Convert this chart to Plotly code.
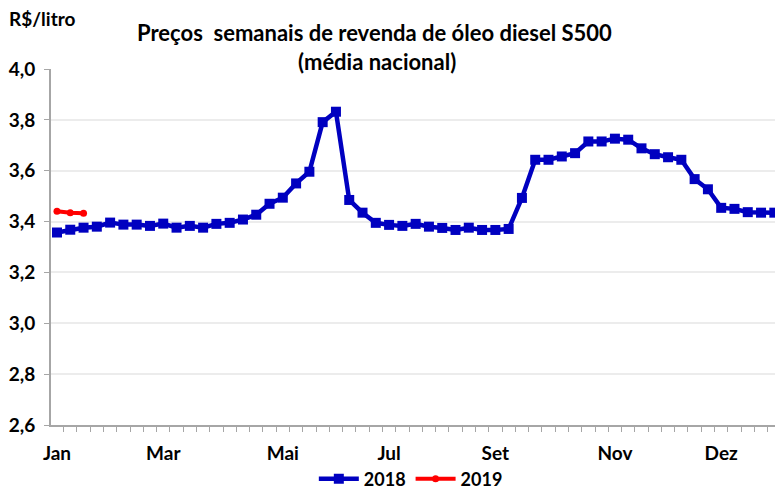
import plotly.graph_objects as go

weeks = list(range(1, 56))
prices_2018 = [3.357, 3.368, 3.376, 3.380, 3.396, 3.388, 3.388, 3.383, 3.392, 3.376,
               3.383, 3.376, 3.391, 3.395, 3.408, 3.427, 3.470, 3.494, 3.550, 3.596,
               3.791, 3.832, 3.485, 3.435, 3.395, 3.387, 3.383, 3.391, 3.380, 3.375,
               3.367, 3.376, 3.367, 3.367, 3.371, 3.493, 3.643, 3.643, 3.656, 3.669,
               3.715, 3.715, 3.726, 3.722, 3.688, 3.665, 3.653, 3.643, 3.567, 3.527,
               3.454, 3.450, 3.437, 3.435, 3.435]
weeks_2019 = [1, 2, 3]
prices_2019 = [3.441, 3.435, 3.433]
month_pos = [1, 9, 18, 26, 34, 43, 51]
month_labels = ["Jan", "Mar", "Mai", "Jul", "Set", "Nov", "Dez"]
ytick_vals = [2.6, 2.8, 3.0, 3.2, 3.4, 3.6, 3.8, 4.0]
ytick_text = ["2,6", "2,8", "3,0", "3,2", "3,4", "3,6", "3,8", "4,0"]

FONT = "Lato"
fig = go.Figure()
fig.add_trace(go.Scatter(x=weeks, y=prices_2018, name="<b>2018</b>", mode="lines+markers",
                         line=dict(color="#0000C0", width=4.5),
                         marker=dict(symbol="square", size=10, color="#0000C0")))
fig.add_trace(go.Scatter(x=weeks_2019, y=prices_2019, name="<b>2019</b>", mode="lines+markers",
                         line=dict(color="#FF0000", width=4),
                         marker=dict(symbol="circle", size=7, color="#FF0000")))

fig.update_layout(
    width=775, height=490,
    margin=dict(l=51, r=0, t=69, b=65, autoexpand=False),
    paper_bgcolor="white", plot_bgcolor="white",
    separators=",.",
    font=dict(family=FONT, size=19, color="black"),
    showlegend=True,
    legend=dict(orientation="h", x=0.497, xanchor="center", y=-0.152, yanchor="middle",
                font=dict(family=FONT, size=18, color="black"), itemwidth=40,
                bgcolor="rgba(0,0,0,0)", tracegroupgap=0, borderwidth=0),
    xaxis=dict(range=[0.55, 55.05], tickmode="array", tickvals=month_pos,
               ticktext=["<b>%s</b>" % m for m in month_labels],
               showgrid=False, zeroline=False, ticks="", automargin=False,
               ticklabelstandoff=10,
               showline=True, linecolor="#a6a6a6", linewidth=2,
               minor=dict(ticks="outside", tick0=0.5, dtick=1, ticklen=5,
                          tickcolor="#a6a6a6", tickwidth=1, showgrid=False),
               tickfont=dict(family=FONT, size=19)),
    yaxis=dict(range=[2.6, 4.0], tickmode="array",
               tickvals=ytick_vals,
               ticktext=["<b>%s</b>" % t for t in ytick_text],
               showgrid=True, gridcolor="#ececec", gridwidth=2, zeroline=False,
               ticks="outside", ticklen=5, tickcolor="#a6a6a6", tickwidth=1,
               ticklabelstandoff=5,
               showline=True, linecolor="#a6a6a6", linewidth=2, automargin=False,
               tickfont=dict(family=FONT, size=19)),
    annotations=[
        dict(text="<b>Preços\u00a0 semanais de revenda de óleo diesel S500</b>",
             xref="paper", yref="paper", x=0.4475, y=1.102, xanchor="center", yanchor="middle",
             showarrow=False, font=dict(family=FONT, size=22)),
        dict(text="<b>(média nacional)</b>",
             xref="paper", yref="paper", x=0.45, y=1.0197, xanchor="center", yanchor="middle",
             showarrow=False, font=dict(family=FONT, size=22)),
        dict(text="<b>R$/litro</b>",
             xref="paper", yref="paper", x=-0.0608, y=1.143, xanchor="left", yanchor="middle",
             showarrow=False, font=dict(family=FONT, size=19)),
    ],
)

fig.write_html("out.html", config={"displayModeBar": False},
               post_script="document.body.style.margin='0';document.body.style.overflow='hidden';")
